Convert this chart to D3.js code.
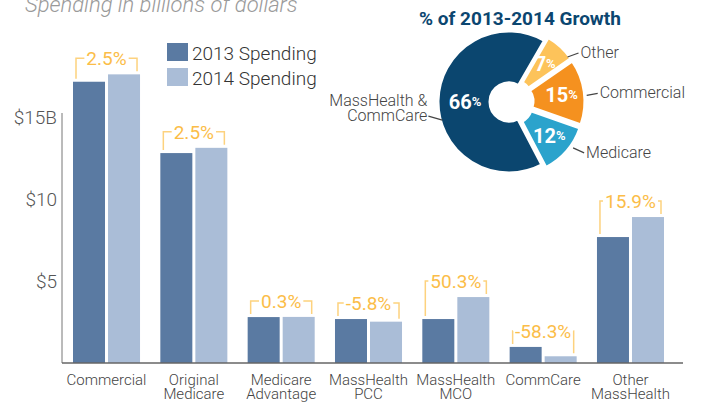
<!DOCTYPE html>
<html>
<head>
<script src="https://d3js.org/d3.v7.min.js"></script>
<style>
	body { margin: 0; background: #fff; }
	text { font-family: Roboto, "Open Sans", sans-serif; }
</style>
</head>
<body>
<script>
	var width = 701;
	var height = 402;

	// bar chart data (billions of dollars)
	var categories = ["Commercial", "Original\nMedicare", "Medicare\nAdvantage", "MassHealth\nPCC", "MassHealth\nMCO", "CommCare", "Other\nMassHealth"]
	var years = ["2013 Spending", "2014 Spending"]
	var spend2013 = [17.15, 12.8, 2.8, 2.68, 2.68, 0.98, 7.68]
	var spend2014 = [17.6, 13.12, 2.81, 2.52, 4.02, 0.41, 8.9]
	var growth = ["2.5%", "2.5%", "0.3%", "-5.8%", "50.3%", "-58.3%", "15.9%"]
	var yTicks = [5, 10, 15]

	// pie data
	var pieLabels = ["Other", "Commercial", "Medicare", "MassHealth &\nCommCare"]
	var pieValues = [7, 15, 12, 66]
	var pieColors = ["#fdc35a", "#f5911f", "#2ba3cc", "#0b466f"]

	var barColors = ["#5a7aa2", "#aabdd7"]
	var bracketColor = "#fdd27e"
	var growthColor = "#fbbd48"

	var svg = d3.select("body")
		.append("svg")
		.attr("width", width)
		.attr("height", height)

	// subtitle, cut at the top like the original
	svg.append("text")
		.attr("x", 25)
		.attr("y", 12)
		.style("font-size", "22px")
		.style("font-style", "italic")
		.style("font-weight", 300)
		.style("fill", "#9a9a9a")
		.text("Spending in billions of dollars")

	// scales
	var x = d3.scaleBand()
		.domain(categories)
		.range([62, 675])
		.paddingInner(0.2325)
		.paddingOuter(0.126)

	var xYear = d3.scaleBand()
		.domain(years)
		.range([0, x.bandwidth()])
		.paddingInner(0.086)

	var y = d3.scaleLinear()
		.domain([0, 15])
		.range([363, 117])

	// y axis
	var yAxis = svg.append("g")
		.attr("transform", "translate(62,0)")
		.call(d3.axisLeft(y)
			.tickValues(yTicks)
			.tickSize(0)
			.tickPadding(5)
			.tickFormat(d => d == 15 ? "$15B" : "$" + d))
	yAxis.select(".domain").attr("stroke", "#777").attr("d", "M0," + (y(15) - 4) + "V" + y(0))
	yAxis.selectAll("text")
		.style("font-size", "19px")
		.style("font-weight", 300)
		.style("fill", "#555")
		.style("font-family", "Roboto, sans-serif")

	// bars
	var rows = categories.map((c, i) => ({cat: c, vals: [spend2013[i], spend2014[i]], g: growth[i]}))

	var groups = svg.selectAll(".grp")
		.data(rows)
		.enter()
		.append("g")
		.attr("transform", d => "translate(" + x(d.cat) + ",0)")

	groups.selectAll("rect")
		.data(d => d.vals.map((v, j) => ({year: years[j], v: v, j: j})))
		.enter()
		.append("rect")
		.attr("x", d => xYear(d.year))
		.attr("y", d => y(d.v))
		.attr("width", xYear.bandwidth())
		.attr("height", d => y(0) - y(d.v))
		.style("fill", d => barColors[d.j])

	// baseline
	svg.append("line")
		.attr("x1", 62).attr("x2", 683)
		.attr("y1", y(0)).attr("y2", y(0))
		.attr("stroke", "#666")
		.attr("stroke-width", 1.5)

	// growth brackets
	groups.each(function(d) {
		var g = d3.select(this)
		var top = y(d3.max(d.vals)) - 16
		var xl = xYear(years[0]) + 3
		var xr = xYear(years[1]) + xYear.bandwidth() - 3
		var cx = x.bandwidth() / 2
		var label = g.append("text")
			.attr("x", cx)
			.attr("y", top + 7)
			.attr("text-anchor", "middle")
			.style("font-size", "19px")
			.style("font-weight", 400)
			.style("fill", growthColor)
			.text(d.g)
		var w = label.node().getComputedTextLength() / 2 + 2
		var path = "M" + xl + "," + (y(d.vals[0]) - 3) + "V" + top + "H" + Math.max(xl, cx - w) +
			"M" + Math.min(xr, cx + w) + "," + top + "H" + xr + "V" + (y(d.vals[1]) - 3)
		g.append("path")
			.attr("d", path)
			.attr("fill", "none")
			.attr("stroke", bracketColor)
			.attr("stroke-width", 1.5)
	})

	// x labels
	groups.append("text")
		.attr("x", x.bandwidth() / 2)
		.attr("y", 385)
		.attr("text-anchor", "middle")
		.style("font-size", "15px")
		.style("font-weight", 300)
		.style("fill", "#444")
		.selectAll("tspan")
		.data(d => d.cat.split("\n"))
		.enter()
		.append("tspan")
		.attr("x", x.bandwidth() / 2)
		.attr("dy", (d, i) => i ? 14 : 0)
		.text(d => d)

	// legend
	var legend = svg.selectAll(".legend")
		.data(years)
		.enter()
		.append("g")
		.attr("transform", (d, i) => "translate(167," + (43 + i * 25) + ")")
	legend.append("rect")
		.attr("width", 21)
		.attr("height", 18)
		.style("fill", (d, i) => barColors[i])
	legend.append("text")
		.attr("x", 25)
		.attr("y", 17)
		.style("font-size", "19px")
		.style("font-weight", 300)
		.style("fill", "#333")
		.text(d => d)

	// pie
	var cx = 510, cy = 102
	var R = 71, r0 = 19
	var rad = Math.PI / 180

	svg.append("text")
		.attr("x", 520)
		.attr("y", 25)
		.attr("text-anchor", "middle")
		.style("font-size", "19px")
		.style("font-weight", 700)
		.style("fill", "#0b4670")
		.text("% of 2013-2014 Growth")

	var pie = d3.pie()
		.sort(null)
		.startAngle(30 * rad)
		.endAngle(390 * rad)
	var arcs = pie(pieValues)

	var arc = d3.arc().innerRadius(r0).outerRadius(R)
	var labelArc = d3.arc().innerRadius(48).outerRadius(48)

	var pg = svg.append("g").attr("transform", "translate(" + cx + "," + cy + ")")

	var slices = pg.selectAll(".slice")
		.data(arcs)
		.enter()
		.append("g")
		.attr("transform", (d, i) => {
			var a = (d.startAngle + d.endAngle) / 2
			var off = i < 3 ? 4 : 1
			return "translate(" + (off * Math.sin(a)) + "," + (-off * Math.cos(a)) + ")"
		})

	slices.append("path")
		.attr("d", arc)
		.style("fill", (d, i) => pieColors[i])
		.attr("stroke", "#fff")
		.attr("stroke-width", 3)
		.attr("stroke-linejoin", "round")

	var pct = slices.append("text")
		.attr("transform", (d, i) => {
			var c = i < 3 ? labelArc.centroid(d) : [-44, 0]
			return "translate(" + c[0] + "," + (c[1] + 7) + ")"
		})
		.attr("text-anchor", "middle")
		.style("fill", "#fff")
		.style("font-weight", 700)
	pct.append("tspan").style("font-size", "20px").text(d => d.value)
	pct.append("tspan").style("font-size", "13px").attr("dy", -3).text("%")

	// pie callouts: leader angle, leader radius
	var callouts = [[52, 73], [85, 77], [126, 78], [255, 70]]
	callouts.forEach((c, i) => {
		var sx = c[1] * Math.sin(c[0] * rad)
		var sy = -c[1] * Math.cos(c[0] * rad)
		var right = i < 3
		var ex = sx + (right ? 11 : -14)
		var ey = sy + (i == 0 ? -4 : i == 1 ? -2 : i == 2 ? 5 : -4)
		pg.append("line")
			.attr("x1", sx).attr("y1", sy)
			.attr("x2", ex).attr("y2", ey)
			.attr("stroke", "#444")
			.attr("stroke-width", 1.2)
		var lines = pieLabels[i].split("\n")
		var t = pg.append("text")
			.attr("text-anchor", right ? "start" : "end")
			.style("font-size", "16px")
			.style("font-weight", 300)
			.style("fill", "#444")
		lines.forEach((s, k) => {
			t.append("tspan")
				.attr("x", ex + (right ? 2 : -1))
				.attr("y", ey + 5 - (lines.length - 1 - k) * 15)
				.text(s)
		})
	})
</script>
</body>
</html>
